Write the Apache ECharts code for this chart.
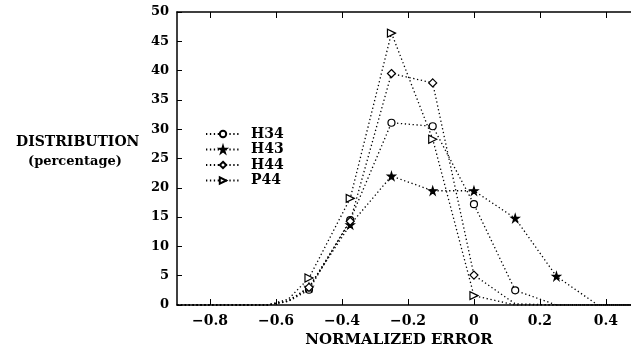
<!DOCTYPE html>
<html>
<head>
<meta charset="utf-8">
<script src="https://cdn.jsdelivr.net/npm/echarts@6/dist/echarts.min.js"></script>
<style>
  html, body { margin: 0; padding: 0; background: #fff; }
  #chart { width: 631px; height: 360px; }
</style>
</head>
<body>
<div id="chart"></div>
<script>
// measured points (normalized error) and tail points where the curves sit on zero
const xs = [-0.9, -0.625, -0.5625, -0.5, -0.375, -0.25, -0.125, 0, 0.125, 0.25, 0.375, 0.476]
const marked = [false, false, false, true, true, true, true, true, true, true, false, false]

const h34 = [0, 0, 0.6, 2.6, 14.5, 31.1, 30.5, 17.2, 2.5, 0, 0, 0]
const h43 = [0, 0, 0.7, 3.0, 13.7, 22.0, 19.5, 19.5, 14.8, 4.9, 0, 0]
const h44 = [0, 0, 0.7, 3.0, 14.3, 39.5, 37.9, 5.1, 0.2, 0, 0, 0]
const p44 = [0, 0, 1.0, 4.6, 18.2, 46.4, 28.3, 1.6, 0, 0, 0, 0]

// which points carry a marker per series
const lastMark = { H34: 8, H43: 9, H44: 7, P44: 7 }

const xTicks = [-0.8, -0.6, -0.4, -0.2, 0, 0.2, 0.4]

const serif = "'DejaVu Serif', 'Liberation Serif', serif"
const star = "path://M50,0 L61,35 L98,35 L68,57 L79,92 L50,70 L21,92 L32,57 L2,35 L39,35 Z"

const chart = echarts.init(document.getElementById("chart"))

const makeSeries = (name, values, symbol, opts) => ({
  name: name,
  type: "line",
  symbol: symbol,
  symbolSize: opts.size,
  symbolRotate: opts.rotate || 0,
  showAllSymbol: true,
  data: xs.map((x, i) => {
    const show = marked[i] && i <= lastMark[name]
    return show ? [x, values[i]] : { value: [x, values[i]], symbol: "none" }
  }),
  lineStyle: { color: "#000", width: 1.3, type: [1.3, 2.6] },
  itemStyle: { color: opts.fill, borderColor: "#000", borderWidth: 1.2 },
  emphasis: { disabled: true },
  z: 3,
})

const option = {
  animation: false,
  backgroundColor: "#fff",
  grid: { left: 177, top: 12, right: 0, bottom: 55 },
  legend: {
    orient: "vertical",
    left: 200,
    top: 122,
    itemGap: 1.5,
    itemWidth: 34,
    itemHeight: 8,
    textStyle: { fontFamily: serif, fontWeight: "bold", fontSize: 14, color: "#000", padding: [0, 0, 0, 6] },
    data: ["H34", "H43", "H44", "P44"],
  },
  xAxis: [
    {
      type: "value",
      min: -0.9,
      max: 0.476,
      name: "NORMALIZED ERROR",
      nameLocation: "middle",
      nameGap: 28,
      nameTextStyle: { fontFamily: serif, fontWeight: "bold", fontSize: 15, color: "#000", padding: [0, 10, 0, 0] },
      axisLine: { onZero: false, lineStyle: { color: "#000", width: 1.5 } },
      axisTick: { inside: true, length: 6, customValues: xTicks, lineStyle: { color: "#000" } },
      axisLabel: {
        customValues: xTicks,
        margin: 9,
        fontFamily: serif,
        fontWeight: "bold",
        fontSize: 14,
        color: "#000",
        formatter: (v) => String(+v.toFixed(1)).replace("-", "\u2212"),
      },
      splitLine: { show: false },
    },
    {
      type: "value",
      position: "top",
      min: -0.9,
      max: 0.476,
      axisLine: { show: true, onZero: false, lineStyle: { color: "#000", width: 1.5 } },
      axisTick: { inside: true, length: 6, customValues: xTicks, lineStyle: { color: "#000" } },
      axisLabel: { show: false },
      splitLine: { show: false },
    },
  ],
  yAxis: {
    type: "value",
    min: 0,
    max: 50,
    interval: 5,
    axisLine: { show: true, onZero: false, lineStyle: { color: "#000", width: 1.5 } },
    axisTick: { inside: true, length: 5, lineStyle: { color: "#000" } },
    axisLabel: { margin: 8, fontFamily: serif, fontWeight: "bold", fontSize: 13, color: "#000" },
    splitLine: { show: false },
  },
  graphic: [
    {
      type: "text",
      left: 16,
      top: 135,
      style: { text: "DISTRIBUTION", font: "bold 14px " + serif, fill: "#000" },
    },
    {
      type: "text",
      left: 28,
      top: 155,
      style: { text: "(percentage)", font: "bold 13px " + serif, fill: "#000" },
    },
  ],
  series: [
    makeSeries("H34", h34, "circle", { size: 7, fill: "#fff" }),
    makeSeries("H43", h43, star, { size: 8, fill: "#000" }),
    makeSeries("H44", h44, "diamond", { size: 8, fill: "#fff" }),
    makeSeries("P44", p44, "triangle", { size: 8, fill: "#fff", rotate: -90 }),
  ],
}

chart.setOption(option)
</script>
</body>
</html>
